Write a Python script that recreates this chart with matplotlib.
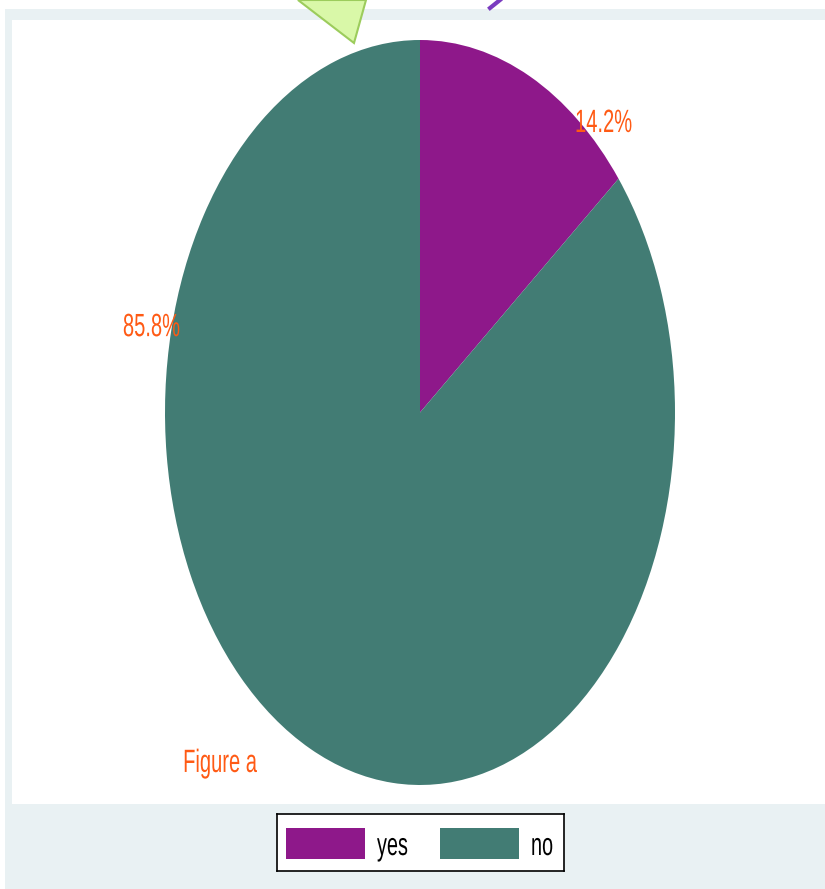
import matplotlib
matplotlib.use("Agg")
from matplotlib import pyplot as plt
from matplotlib.patches import Rectangle, Polygon
from matplotlib.patheffects import AbstractPathEffect
from matplotlib.transforms import Affine2D

# data
categories = ["yes", "no"]
shares = [14.2, 85.8]
colors = ["#8e188a", "#427c74"]
pct_labels = ["14.2%", "85.8%"]
label_orange = "#ff5a14"

plt.rcParams['font.family'] = ['Liberation Sans', 'DejaVu Sans']


class VStretch(AbstractPathEffect):
    # the original chart is squashed horizontally, text included
    def __init__(self, sy=1.6):
        super().__init__()
        self.sy = sy

    def draw_path(self, renderer, gc, tpath, affine, rgbFace=None):
        renderer.draw_path(gc, tpath, Affine2D().scale(1, self.sy) + affine, rgbFace)


stretch = [VStretch(1.6)]

W, H = 825, 889
fig = plt.figure(figsize=(W / 100, H / 100), dpi=100)
fig.patch.set_facecolor("white")


def px(x0, y0, x1, y1):
    # pixel box (top-left origin) -> figure fraction rect
    return [x0 / W, 1 - y1 / H, (x1 - x0) / W, (y1 - y0) / H]


# background panels (below the axes)
fig.patches.append(Rectangle((5 / W, 0), 1, 1 - 9 / H, transform=fig.transFigure,
                             facecolor="#e9f1f3", edgecolor="none", zorder=-2))
fig.patches.append(Rectangle((12 / W, 1 - 804 / H), 1, (804 - 20) / H, transform=fig.transFigure,
                             facecolor="white", edgecolor="none", zorder=-1))

# stray callout bits at the top
fig.patches.append(Polygon([(298 / W, 1), (366 / W, 1), (354 / W, 1 - 43 / H)], closed=True,
                           transform=fig.transFigure, facecolor="#d9f8a8",
                           edgecolor="#9ccc5c", linewidth=1.5, zorder=5))
fig.lines.append(plt.Line2D([500 / W, 490 / W], [1, 1 - 8 / H], transform=fig.transFigure,
                            color="#7a3cc0", linewidth=3, zorder=5))

# pie (stretched into an ellipse)
ax = fig.add_axes(px(165, 40, 675, 785))
ax.patch.set_alpha(0)
wedges, _ = ax.pie(shares, colors=colors, startangle=90, counterclock=False,
                   wedgeprops=dict(linewidth=0))
ax.set_aspect("auto")
ax.set_xlim(-1, 1)
ax.set_ylim(-1, 1)
ax.axis("off")

lbl = dict(color=label_orange, fontsize=14.5, ha="left", va="baseline",
           path_effects=stretch, clip_on=False)
ax.text(0.608, 0.753, pct_labels[0], **lbl)
ax.text(-1.165, 0.205, pct_labels[1], **lbl)
ax.text(-0.929, -0.965, "Figure a", **lbl)

# legend
lax = fig.add_axes(px(277, 814, 564, 871))
lax.set_xlim(277, 564)
lax.set_ylim(871, 814)
lax.set_xticks([])
lax.set_yticks([])
for s in lax.spines.values():
    s.set_linewidth(1.2)
    s.set_color("black")
for i, (cat, col) in enumerate(zip(categories, colors)):
    x0 = 286 + i * 154
    lax.add_patch(Rectangle((x0, 828), 79, 31, facecolor=col, edgecolor="none"))
    lax.text(x0 + 91, 855, cat, fontsize=14.3, ha="left", va="baseline", color="black",
             path_effects=stretch)

fig.savefig("out.png", dpi=100)
